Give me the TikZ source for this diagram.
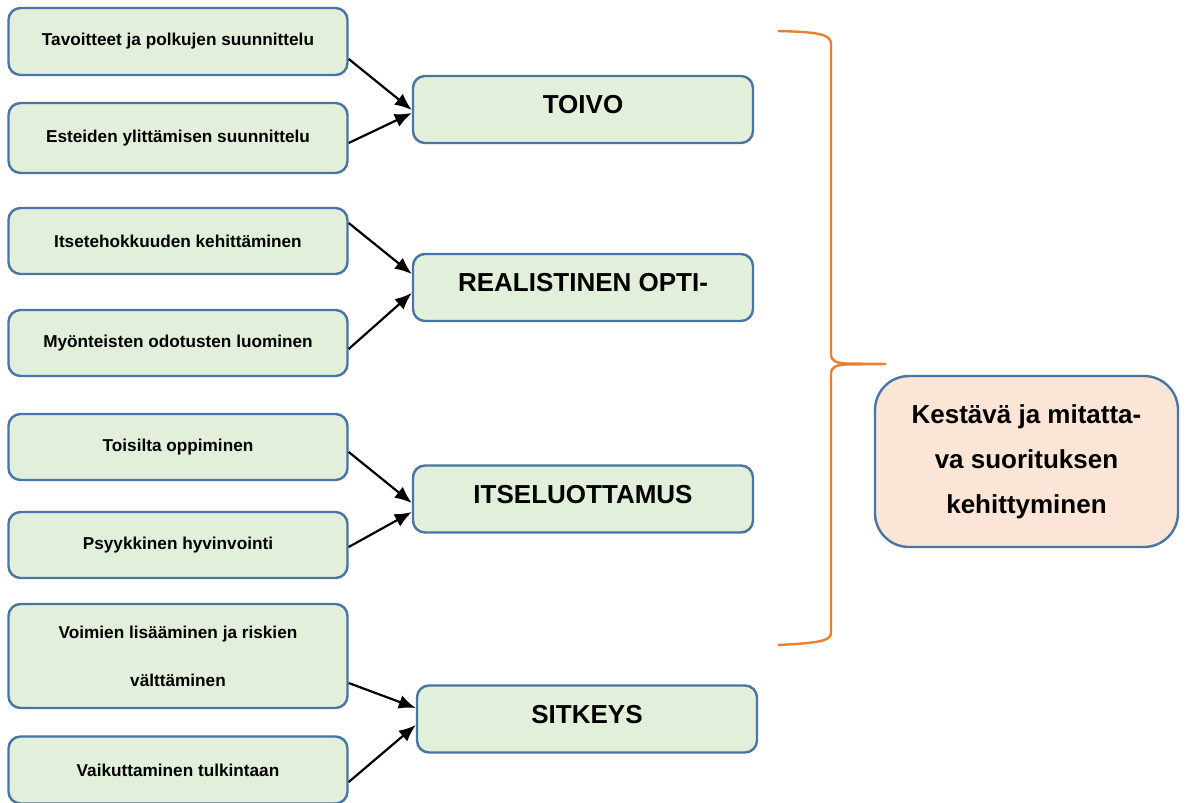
\documentclass[tikz,border=0pt]{standalone}
\usepackage{fontspec}
\setmainfont{Liberation Sans}
\usetikzlibrary{arrows.meta,positioning,shapes}
\definecolor{boxfill}{RGB}{226,239,218}
\definecolor{boxframe}{RGB}{72,117,163}
\definecolor{goalfill}{RGB}{251,229,214}
\definecolor{braceorange}{RGB}{237,125,49}

\begin{document}
\begin{tikzpicture}[x=1pt,y=1pt,
            means/.style={draw=boxframe,fill=boxfill,line width=2.4pt,rounded corners=12pt,minimum width=339pt,minimum height=67pt,align=center,font=\fontsize{17.2}{20}\selectfont\bfseries},
            factor/.style={means,minimum width=340pt,text height=19pt,text depth=11pt,font=\fontsize{26}{30}\selectfont\bfseries},
            goal/.style={draw=boxframe,fill=goalfill,line width=2.4pt,rounded corners=34pt,minimum width=303pt,minimum height=171pt,align=center,font=\fontsize{26}{45}\selectfont\bfseries},
            link/.style={draw,line width=2.2pt,-{Latex[length=17pt,width=14pt]}},
            brace/.style={draw=braceorange,line width=2.4pt}
          ]
          \useasboundingbox (0,0) rectangle (1187,-803);

          %means
          \node[means] (t1) at (178,-41.5) {Tavoitteet ja polkujen suunnittelu};
          \node[below of = t1,means,node distance=96.5pt,minimum height=70pt] (t2) {Esteiden ylittämisen suunnittelu};
          \node[below of = t2,means,node distance=103pt,minimum height=66pt] (t3) {Itsetehokkuuden kehittäminen};
          \node[below of = t3,means,node distance=102pt,minimum height=66pt] (t4) {Myönteisten odotusten luominen};
          \node[below of = t4,means,node distance=104pt,minimum height=66pt] (t5) {Toisilta oppiminen};
          \node[below of = t5,means,node distance=98pt,minimum height=66pt] (t6) {Psyykkinen hyvinvointi};
          \node[below of = t6,means,node distance=111pt,minimum height=104pt] (t7) {Voimien lisääminen ja riskien\\[28pt]välttäminen};
          \node[below of = t7,means,node distance=114pt] (t8) {Vaikuttaminen tulkintaan};

          %factors
          \node[factor] (r1) at (583,-109.5) {TOIVO};
          \node[below of = r1,factor,node distance=178pt] (r2) {REALISTINEN OPTI-};
          \node[below of = r2,factor,node distance=211.5pt] (r3) {ITSELUOTTAMUS};
          \node[below of = r3,factor,node distance=220pt,xshift=4pt] (r4) {SITKEYS};

          %goal
          \node[goal] (g) at (1026.5,-461.5) {Kestävä ja mitatta-\\va suorituksen\\kehittyminen};

          %brace
          \coordinate (tip) at (886,-364);
          \draw[brace] (778,-31) .. controls (818,-32) and (831,-34) .. (831,-44) -- (831,-354)
            .. controls (831,-361) and (836,-363) .. (846,-363.5) -- (tip) -- (846,-364.5)
            .. controls (836,-365) and (831,-367) .. (831,-374) -- (831,-633)
            .. controls (831,-641) and (818,-643) .. (778,-645);

          %arrows
          \path
          ([yshift=-17.5pt]t1.east) edge[link] ([yshift=-0.5pt]r1.west)
          ([yshift=-5pt]t2.east) edge[link] ([yshift=-3.5pt]r1.west)
          ([yshift=18pt]t3.east) edge[link] ([yshift=13.5pt]r2.west)
          ([yshift=-6pt]t4.east) edge[link] ([yshift=-5.5pt]r2.west)
          ([yshift=-5pt]t5.east) edge[link] ([yshift=-4pt]r3.west)
          ([yshift=-2pt]t6.east) edge[link] ([yshift=-13pt]r3.west)
          ([yshift=-27pt]t7.east) edge[link] ([yshift=11pt]r4.west)
          ([yshift=-12pt]t8.east) edge[link] ([yshift=-6pt]r4.west)
          ;

      \end{tikzpicture}
\end{document}
